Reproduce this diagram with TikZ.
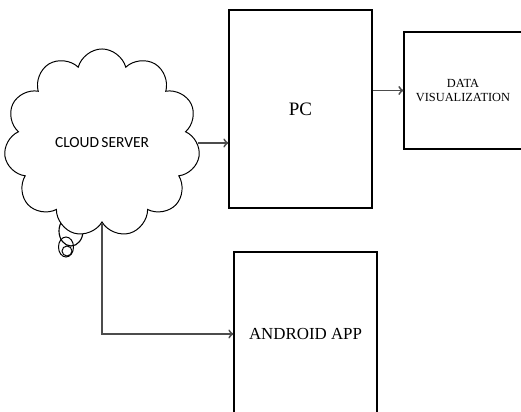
\documentclass[tikz,border=0pt]{standalone}
\usepackage{fontspec}
\setmainfont{Liberation Serif}
\newfontfamily\carlito{Carlito}
\usetikzlibrary{shapes.symbols}
\usetikzlibrary{arrows,positioning}
\colorlet{gris}{black!70}

\begin{document}
\begin{tikzpicture}[x=0.025cm,y=-0.025cm]%
        %\draw[step=10,color=gray,very thin] (0,0) grid (521,412);%%
        \useasboundingbox (0,0) rectangle (521,412);%%
        \clip (0,0) rectangle (521,412);%%
        % bulles sous le nuage
        \draw[line width=.8pt] (71,231) ellipse [x radius=12,y radius=15];%%
        \draw[line width=.7pt] (66,247) ellipse [x radius=7.5,y radius=10];%%
        \draw[line width=.7pt] (67,251) circle [radius=5];%%
        \node[cloud,cloud puffs=11,aspect=1.05,draw,fill=white,line width=.7pt,
              minimum width=4.9cm,minimum height=4.7cm,
              font=\carlito\fontsize{11}{13}\selectfont] (cloud) at (102,143) {CLOUD\hspace{.15em}SERVER}; %%
        \begin{scope}[shape=rectangle]
        \tikzstyle{every node}=[draw,line width=.9pt,inner sep=0pt] %%
        \node[minimum width=3.575cm,minimum height=4.95cm,font=\fontsize{13.5}{15}\selectfont] (pc) at (300.5,109) {PC}; %%
        \node[minimum width=2.95cm,minimum height=2.925cm,align=center,font=\fontsize{8.8}{10}\selectfont] (dv) at (463,90.5) {DATA\\VISUALIZATION}; %%
        \node[minimum width=3.575cm,minimum height=4.1cm,font=\fontsize{12}{14}\selectfont] (app) at (305.5,334) {ANDROID APP}; %%
        \end{scope}
        \draw[->,gris,line width=1.3pt] (cloud.east) -- (cloud.east -| pc.west); %%
        \draw[->,gris,line width=1.3pt] (pc.east |- dv.west) -- (dv.west); %%
        \draw[->,gris,line width=1.3pt] (cloud.south) |- (app.west); %%
        \end{tikzpicture}
\end{document}
